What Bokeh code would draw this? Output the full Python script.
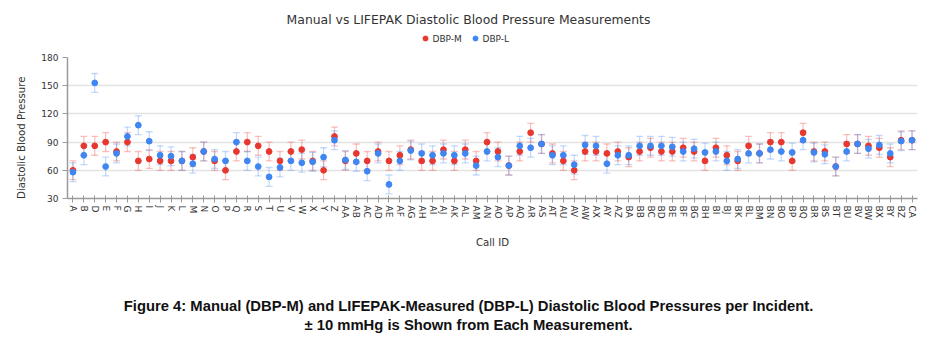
from bokeh.plotting import figure
from bokeh.layouts import column
from bokeh.models import ColumnDataSource, Whisker, TeeHead, Label, Range1d
from bokeh.core.properties import value
from bokeh.embed import file_html
from bokeh.resources import INLINE

call_ids = ["A", "B", "D", "E", "F", "G", "H", "I", "J", "K", "L", "M", "N", "O", "P",
            "Q", "R", "S", "T", "U", "V", "W", "X", "Y", "Z",
            "AA", "AB", "AC", "AD", "AE", "AF", "AG", "AH", "AI", "AJ", "AK", "AL", "AM",
            "AN", "AO", "AP", "AQ", "AR", "AS", "AT", "AU", "AV", "AW", "AX", "AY", "AZ",
            "BA", "BB", "BC", "BD", "BE", "BF", "BG", "BH", "BI", "BJ", "BK", "BL", "BM",
            "BN", "BO", "BP", "BQ", "BR", "BS", "BT", "BU", "BV", "BW", "BX", "BY", "BZ",
            "CA"]

dbp_m = [60, 86, 86, 90, 80, 90, 70, 72, 70, 70, 70, 74, 80, 70, 60,
         80, 90, 86, 80, 70, 80, 82, 70, 60, 96,
         70, 78, 70, 80, 70, 76, 82, 70, 70, 82, 70, 82, 70,
         90, 80, 65, 80, 100, 88, 78, 70, 60, 80, 80, 78, 80,
         74, 80, 84, 80, 80, 84, 80, 70, 84, 76, 70, 86, 78,
         90, 90, 70, 100, 80, 80, 64, 88, 88, 86, 84, 74, 92,
         92]

dbp_l = [58, 76, 153, 64, 78, 96, 108, 91, 76, 75, 70, 67, 80, 72, 70,
         90, 70, 64, 53, 63, 70, 68, 69, 74, 92,
         71, 69, 59, 78, 45, 70, 81, 78, 76, 78, 76, 78, 65,
         80, 74, 65, 86, 84, 88, 76, 76, 66, 87, 86, 67, 76,
         76, 86, 86, 86, 85, 80, 83, 79, 80, 70, 72, 78, 78,
         82, 80, 79, 92, 79, 77, 64, 80, 88, 83, 87, 78, 91,
         92]

y_ticks = [30, 60, 90, 120, 150, 180]
error_mmhg = 10

title_text = "Manual vs LIFEPAK Diastolic Blood Pressure Measurements"
series_names = ["DBP-M", "DBP-L"]
caption_1 = "Figure 4: Manual (DBP-M) and LIFEPAK-Measured (DBP-L) Diastolic Blood Pressures per Incident."
caption_2 = "\u00b1 10 mmHg is Shown from Each Measurement."

RED = "#e8372f"
BLUE = "#3f86f2"
FONT = "DejaVu Sans"
W = 936
FL, FR = 67, 917          # frame left / right in page pixels (shared by all rows)

# ---------------- header: title + legend ----------------
HH = 50
header = figure(width=W, height=HH, x_range=Range1d(FL, FR), y_range=Range1d(HH, 0),
                x_axis_type=None, y_axis_type=None, title=None,
                output_backend="svg", toolbar_location=None,
                min_border_left=FL, min_border_right=W - FR, min_border_top=0,
                min_border_bottom=0)
header.outline_line_color = None
header.add_layout(Label(x=W / 2, y=19, text=title_text, text_align="center",
                        text_baseline="middle", text_font=FONT, text_font_size="12.4px",
                        text_color="#333333"))
leg_x0, leg_step, leg_y = 425, 50, 38
leg_src = ColumnDataSource(dict(x=[leg_x0, leg_x0 + leg_step], y=[leg_y, leg_y],
                                tx=[leg_x0 + 7, leg_x0 + leg_step + 7],
                                c=[RED, BLUE], t=series_names))
header.scatter("x", "y", source=leg_src, size=5, color="c")
header.text("tx", "y", text="t", source=leg_src, text_font=value(FONT),
            text_font_size="9px", text_color="#333333", text_baseline="middle",
            text_align="left")

# ---------------- main chart ----------------
src_m = ColumnDataSource(dict(x=call_ids, y=dbp_m,
                              lo=[v - error_mmhg for v in dbp_m],
                              hi=[v + error_mmhg for v in dbp_m]))
src_l = ColumnDataSource(dict(x=call_ids, y=dbp_l,
                              lo=[v - error_mmhg for v in dbp_l],
                              hi=[v + error_mmhg for v in dbp_l]))

MH = 215
p = figure(width=W, height=MH, x_range=call_ids, y_range=(30, 180), title=None,
           output_backend="svg", toolbar_location=None,
           min_border_left=FL, min_border_right=W - FR, min_border_top=7,
           min_border_bottom=MH - 7 - 141)

for src, col in ((src_m, RED), (src_l, BLUE)):
    w = Whisker(base="x", lower="lo", upper="hi", source=src, dimension="height",
                line_color=col, line_alpha=0.3, line_width=1.3,
                upper_head=TeeHead(size=7, line_color=col, line_alpha=0.3, line_width=1.3),
                lower_head=TeeHead(size=7, line_color=col, line_alpha=0.3, line_width=1.3))
    p.add_layout(w)

p.scatter("x", "y", source=src_m, size=5.8, color=RED)
p.scatter("x", "y", source=src_l, size=5.8, color=BLUE)

p.yaxis.ticker = y_ticks
p.yaxis.axis_label = "Diastolic Blood Pressure" + "\u00a0" * 6
p.xaxis.axis_label = "Call ID"
p.xaxis.major_label_orientation = "vertical"
for ax in (p.xaxis, p.yaxis):
    ax.axis_label_text_font = FONT
    ax.axis_label_text_font_style = "normal"
    ax.axis_label_text_font_size = "10.2px"
    ax.axis_label_text_color = "#333333"
    ax.major_label_text_font = FONT
    ax.major_label_text_font_size = "9px"
    ax.major_label_text_color = "#333333"
    ax.axis_line_color = "#9a9a9a"
    ax.axis_line_width = 1.5
    ax.major_tick_line_color = "#9a9a9a"
    ax.minor_tick_line_color = None
p.yaxis.major_tick_in = 0
p.yaxis.major_tick_out = 5
p.yaxis.major_label_standoff = 4
p.xaxis.major_tick_in = 3
p.xaxis.major_tick_out = 4
p.xaxis.major_label_standoff = 3
p.yaxis.axis_label_standoff = 11
p.xaxis.axis_label_standoff = 14

p.xgrid.grid_line_color = None
p.ygrid.grid_line_color = "#e3e3e3"
p.ygrid.grid_line_width = 1.5
p.outline_line_color = None

# ---------------- caption ----------------
CH = 350 - HH - MH
cap = figure(width=W, height=CH, x_range=Range1d(FL, FR), y_range=Range1d(CH, 0),
             x_axis_type=None, y_axis_type=None, title=None,
             output_backend="svg", toolbar_location=None,
             min_border_left=FL, min_border_right=W - FR, min_border_top=0,
             min_border_bottom=0)
cap.outline_line_color = None
for txt, yy in ((caption_1, 305 - HH - MH), (caption_2, 324 - HH - MH)):
    cap.add_layout(Label(x=W / 2, y=yy, text=txt, text_align="center",
                         text_baseline="middle", text_font="Liberation Sans",
                         text_font_size="14.8px", text_font_style="bold",
                         text_color="#111111"))

layout = column(header, p, cap, spacing=0)
open("out.html", "w").write(file_html(layout, INLINE))
